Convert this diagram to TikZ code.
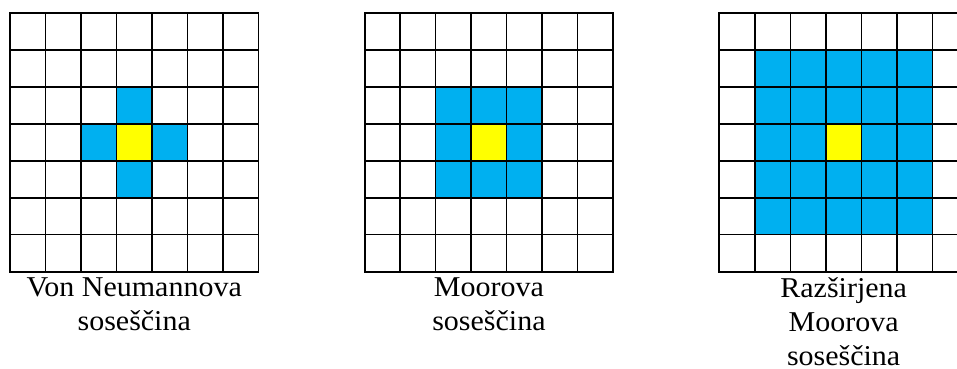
\documentclass[tikz,border=0pt]{standalone}
\usepackage{fontspec}
\setmainfont{Liberation Serif}
\newfontfamily\capfont[FakeStretch=1.045]{Liberation Serif}
\usetikzlibrary{positioning}
\definecolor{cblue}{HTML}{00B0F0}
\definecolor{cyellow}{HTML}{FFFF00}
\tikzset{
  every picture/.style={x=0.03cm, y=0.03cm},
  gridline/.style={draw=black, line width=1.35pt},
  frame/.style={draw=black, line width=1.6pt},
  caption/.style={font=\capfont\fontsize{24.5}{28.8}\selectfont, align=center, inner sep=0pt, anchor=north},
}
\newcommand{\gcell}[4]{\fill[#4] ({#1+#2*35.5},{355.7-#3*36.9}) rectangle ++(35.5,-36.9);}

\begin{document}
\begin{tikzpicture}
  \useasboundingbox (0,0) rectangle (957,369);
  \clip (0,0) rectangle (957,369);
  % von Neumann
  \foreach \c/\r in {3/2,2/3,4/3,3/4} {\gcell{10}{\c}{\r}{cblue}}
  \gcell{10}{3}{3}{cyellow}
  % Moore
  \foreach \c in {2,3,4} \foreach \r in {2,3,4} {\gcell{364.7}{\c}{\r}{cblue}}
  \gcell{364.7}{3}{3}{cyellow}
  % extended Moore
  \foreach \c in {1,...,5} \foreach \r in {1,...,5} {\gcell{719.4}{\c}{\r}{cblue}}
  \gcell{719.4}{3}{3}{cyellow}
  % grids
  \foreach \gx in {10,364.7,719.4} {
    \foreach \i in {1,...,6} {
      \draw[gridline] ({\gx+\i*35.5},97.4) -- ++(0,258.3);
      \draw[gridline] (\gx,{97.4+\i*36.9}) -- ++(248.5,0);
    }
    \draw[frame] (\gx,97.4) rectangle ++(248.5,258.3);
  }
  % captions
  \node[caption] (vnlabel) at (134.25,91.5) {Von Neumannova\\soseščina};
  \node[caption] (moorelabel) at (488.95,91.5) {Moorova\\soseščina};
  \node[caption] (extlabel) at (843.65,91.5) {Razširjena\\Moorova\\soseščina};
\end{tikzpicture}
\end{document}
